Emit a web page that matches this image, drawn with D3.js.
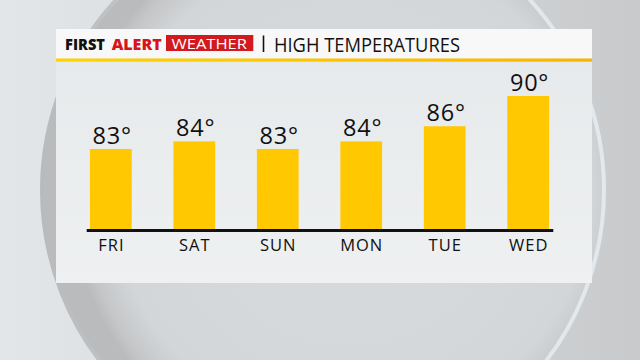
<!DOCTYPE html>
<html><head><meta charset="utf-8">
<script src="https://cdn.jsdelivr.net/npm/d3@7"></script>
<style>html,body{margin:0;padding:0;background:#d5d8da;}svg{display:block;}</style>
</head><body>
<svg id="c" width="640" height="360"></svg>
<script>
const days = ["FRI", "SAT", "SUN", "MON", "TUE", "WED"];
const highs = [83, 84, 83, 84, 86, 90];
const titleBrand1 = "FIRST";
const titleBrand2 = "ALERT";
const titleBrand3 = "WEATHER";
const titleText = "HIGH TEMPERATURES";

const svg = d3.select("#c");
const defs = svg.append("defs");

// background gradient
const bg = defs.append("linearGradient").attr("id","bg").attr("x1","0").attr("x2","1").attr("y1","0").attr("y2","0");
bg.append("stop").attr("offset","0").attr("stop-color","#e3e6e8");
bg.append("stop").attr("offset","0.5").attr("stop-color","#d6d9db");
bg.append("stop").attr("offset","1").attr("stop-color","#c8cacc");
svg.append("rect").attr("width",640).attr("height",360).attr("fill","url(#bg)");

// circle
const cg = defs.append("radialGradient").attr("id","cg").attr("cx","0.55").attr("cy","0.5").attr("r","0.5");
cg.append("stop").attr("offset","0").attr("stop-color","#d9dcde");
cg.append("stop").attr("offset","0.85").attr("stop-color","#d3d6d8");
cg.append("stop").attr("offset","0.96").attr("stop-color","#c4c6c8");
cg.append("stop").attr("offset","1").attr("stop-color","#b9bbbd");
const rim = defs.append("linearGradient").attr("id","rim").attr("x1","0").attr("x2","1").attr("y1","0").attr("y2","0");
rim.append("stop").attr("offset","0").attr("stop-color","#b8babc");
rim.append("stop").attr("offset","0.45").attr("stop-color","#d2d5d7");
rim.append("stop").attr("offset","0.7").attr("stop-color","#dfe5e8");
rim.append("stop").attr("offset","1").attr("stop-color","#e2e8eb");
svg.append("circle").attr("cx",323).attr("cy",190).attr("r",281).attr("fill","url(#cg)")
  .attr("stroke","url(#rim)").attr("stroke-width",4);

// panel
const px0 = 56, px1 = 592, py0 = 29, py1 = 283;
const pg = defs.append("linearGradient").attr("id","pg").attr("x1","0").attr("x2","0").attr("y1","0").attr("y2","1");
pg.append("stop").attr("offset","0").attr("stop-color","#e6e9eb");
pg.append("stop").attr("offset","1").attr("stop-color","#eef0f1");
svg.append("rect").attr("x",px0).attr("y",py0).attr("width",px1-px0).attr("height",py1-py0).attr("fill","url(#pg)");
svg.append("rect").attr("x",px0).attr("y",py0).attr("width",px1-px0).attr("height",29.5).attr("fill","#f8f8f8");
const yl = defs.append("linearGradient").attr("id","yl").attr("x1","0").attr("x2","1");
yl.append("stop").attr("offset","0").attr("stop-color","#ffd400");
yl.append("stop").attr("offset","1").attr("stop-color","#fbb400");
svg.append("rect").attr("x",px0).attr("y",58.5).attr("width",px1-px0).attr("height",3.2).attr("fill","url(#yl)");

// header
const hf = "'Open Sans', 'DejaVu Sans', sans-serif";
svg.append("text").attr("x",65).attr("y",50).attr("font-family",hf).attr("font-weight",800)
  .attr("font-size",15).attr("fill","#111").attr("textLength",40).attr("lengthAdjust","spacingAndGlyphs").text(titleBrand1);
svg.append("text").attr("x",111.7).attr("y",50).attr("font-family",hf).attr("font-weight",800)
  .attr("font-size",15).attr("fill","#d7141b").attr("textLength",50).attr("lengthAdjust","spacingAndGlyphs").text(titleBrand2);
svg.append("rect").attr("x",166).attr("y",35).attr("width",87.3).attr("height",16).attr("fill","#d11920");
svg.append("text").attr("x",171.5).attr("y",49.3).attr("font-family",hf).attr("font-weight",500)
  .attr("font-size",14.5).attr("fill","#fff").attr("textLength",75.5).attr("lengthAdjust","spacingAndGlyphs").text(titleBrand3);
svg.append("line").attr("x1",263.5).attr("x2",263.5).attr("y1",35.5).attr("y2",52).attr("stroke","#111").attr("stroke-width",1.6);
svg.append("text").attr("x",274).attr("y",51.7).attr("font-family",hf).attr("font-weight",400)
  .attr("font-size",19.5).attr("fill","#111").attr("textLength",186).attr("lengthAdjust","spacingAndGlyphs").text(titleText);

// scales
const x = d3.scaleBand().domain(days).range([69.1, 569.9]).paddingInner(0.5).paddingOuter(0.25);
const y = d3.scaleLinear().domain([72.2, 90]).range([230.7, 96]);

const lf = "'Open Sans', 'DejaVu Sans', sans-serif";
svg.append("g").selectAll("rect").data(highs).join("rect")
  .attr("x",(d,i)=>x(days[i])).attr("width",x.bandwidth())
  .attr("y",d=>y(d)).attr("height",d=>y(72.2)-y(d)).attr("fill","#ffc800");

svg.append("g").selectAll("text").data(highs).join("text")
  .attr("x",(d,i)=>x(days[i])+x.bandwidth()/2+1.4).attr("y",d=>y(d)-5)
  .attr("text-anchor","middle").attr("font-family",lf).attr("font-weight",500).attr("font-size",23.5)
  .attr("letter-spacing",0.8).attr("fill","#111")
  .text(d=>d+"°");

// axis
const axis = d3.axisBottom(x).tickSize(0).tickPadding(9);
const ag = svg.append("g").attr("transform","translate(0,230.5)").call(axis);
ag.select(".domain").remove();
ag.append("line").attr("x1",86.7).attr("x2",553.3).attr("y1",0).attr("y2",0).attr("stroke","#111").attr("stroke-width",3);
ag.selectAll(".tick text").attr("font-family",lf).attr("font-weight",500).attr("font-size",16.5)
  .attr("letter-spacing",1).attr("dx",0.5).attr("fill","#111");
</script>
</body></html>
